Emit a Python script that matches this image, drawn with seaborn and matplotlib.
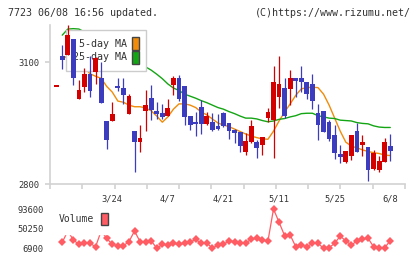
import numpy as np
import pandas as pd
import matplotlib
matplotlib.use("Agg")
import matplotlib.pyplot as plt
from matplotlib.patches import Patch
import seaborn as sns

# ---- data ----
opens = [3041, 3115, 3117, 3157, 3009, 3039, 3070, 3075, 3061, 2955,
         2956, 3041, 3036, 2972, 2930, 2904, 2980, 3012, 2980, 2975,
         2967, 3043, 3061, 3041, 2967, 2953, 2990, 2948, 2953, 2943,
         2975, 2950, 2933, 2928, 2879, 2904, 2904, 2896, 2962, 2957,
         3015, 3036, 3034, 3061, 3061, 3051, 3046, 2975, 2980, 2952,
         2920, 2874, 2855, 2870, 2930, 2896, 2891, 2837, 2834, 2855, 2894]
highs = [3041, 3142, 3191, 3157, 3056, 3086, 3115, 3113, 3100, 2955,
         3002, 3061, 3061, 3021, 2930, 2945, 3031, 3043, 3002, 2997,
         3009, 3066, 3068, 3041, 2967, 2977, 3007, 2977, 2975, 2972,
         2977, 2950, 2935, 2928, 2925, 2957, 2908, 2916, 2988, 3090,
         3115, 3061, 3080, 3061, 3090, 3051, 3071, 2997, 2980, 2957,
         2945, 2896, 2881, 2920, 2951, 2920, 2891, 2884, 2870, 2914, 2923]
lows = [3041, 3084, 3117, 3043, 3009, 3027, 3015, 3046, 3000, 2886,
        2956, 3029, 2997, 2972, 2830, 2879, 2930, 2957, 2960, 2960,
        2967, 3019, 3004, 2945, 2933, 2919, 2923, 2945, 2930, 2933,
        2939, 2911, 2901, 2879, 2871, 2901, 2865, 2871, 2952, 2865,
        2988, 2962, 2994, 3015, 3027, 3009, 2984, 2908, 2929, 2906,
        2861, 2852, 2852, 2859, 2879, 2870, 2808, 2834, 2830, 2855, 2857]
closes = [3041, 3104, 3166, 3061, 3031, 3070, 3029, 3110, 3000, 2908,
          2972, 3035, 3019, 3016, 2904, 2913, 2994, 2982, 2972, 2965,
          2987, 3061, 3009, 2965, 2945, 2948, 2948, 2968, 2933, 2935,
          2943, 2930, 2926, 2894, 2906, 2943, 2889, 2916, 2977, 3051,
          3046, 2968, 3061, 3054, 3050, 3021, 3005, 2945, 2929, 2911,
          2877, 2867, 2881, 2920, 2879, 2904, 2834, 2877, 2857, 2904, 2880]
ma5 = [np.nan, 3108, 3115, 3100, 3085, 3086, 3071, 3065, 3060, 3040,
       3026, 3004, 3001, 2994, 2990, 2990, 2987, 2980, 2967, 2952,
       2965, 2984, 2997, 2997, 2994, 2988, 2977, 2970, 2960, 2950,
       2945, 2941, 2935, 2929, 2923, 2918, 2914, 2911, 2910, 2930,
       2955, 2977, 2997, 3018, 3034, 3037, 3038, 3037, 3021, 2994,
       2962, 2930, 2903, 2893, 2889, 2884, 2880, 2877, 2875, 2871, 2870]
ma25 = [np.nan, 3166, 3181, 3182, 3181, 3174, 3167, 3159, 3151, 3143,
        3135, 3127, 3119, 3111, 3103, 3095, 3088, 3080, 3070, 3059,
        3046, 3036, 3030, 3021, 3016, 3011, 3005, 3000, 2994, 2988,
        2984, 2978, 2973, 2967, 2962, 2962, 2960, 2956, 2953, 2955,
        2959, 2961, 2965, 2968, 2973, 2974, 2974, 2968, 2965, 2962,
        2961, 2957, 2956, 2955, 2951, 2949, 2948, 2943, 2940, 2939, 2939]
volume = [np.nan, 20100, 45000, 25200, 15700, 17900, 17900, 10400, 45000, 28800,
          15700, 12600, 12600, 21500, 45100, 21500, 21500, 23700, 6900, 15700,
          14200, 17900, 15700, 17900, 20100, 26800, 17900, 19000, 6900, 14200,
          15700, 23000, 21500, 17900, 17900, 27400, 29000, 25200, 23000, 93600,
          64300, 34700, 36200, 10400, 14200, 10400, 17900, 17900, 6900, 8200,
          17900, 34000, 23000, 14200, 23000, 27400, 29000, 10400, 8200, 8200, 23700]
date_labels = ["3/24", "4/7", "4/21", "5/11", "5/25", "6/8"]
date_label_idx = [10, 20, 30, 40, 50, 60]
price_ticks = [2800, 3100]
ma_labels = ["5-day MA", "25-day MA"]

# ---- style ----
RED = "#d40000"
BLUE = "#3c3cbe"
ORANGE = "#f08c0a"
GREEN = "#14a514"
VOLRED = "#ff5c64"
AXIS = "#d2d2d2"
TXT = "#333333"

sns.set_style("white")
plt.rcParams["font.family"] = ["DejaVu Sans Mono", "DejaVu Sans"]

W, H = 420, 259
fig = plt.figure(figsize=(W / 100, H / 100), dpi=100)
fig.patch.set_facecolor("white")
ax = fig.add_axes([50 / W, 1 - 184 / H, 355 / W, 159 / H])
axv = fig.add_axes([50 / W, 1 - 254 / H, 355 / W, 51 / H])

df = pd.DataFrame(dict(x=np.arange(len(closes)), o=opens, h=highs, l=lows,
                       c=closes, ma5=ma5, ma25=ma25, vol=volume))
xmin, xmax = -1.2, 62.65

# ---- candles ----
up = df.c >= df.o
cols = np.where(up, RED, BLUE)
ax.vlines(df.x, df.l, df.h, colors=cols, lw=0.9, zorder=3)
raw = (df.c - df.o).abs()
body = raw.clip(lower=4)
bottom = df[["o", "c"]].min(axis=1) - (body - raw) / 2
ax.bar(df.x, body, bottom=bottom, width=0.86, color=cols, linewidth=0, zorder=4)

# ---- moving averages ----
sns.lineplot(data=df, x="x", y="ma5", ax=ax, color=ORANGE, lw=1.0,
             estimator=None, zorder=2)
sns.lineplot(data=df, x="x", y="ma25", ax=ax, color=GREEN, lw=1.0,
             estimator=None, zorder=2)

ax.set_xlim(xmin, xmax)
ax.set_ylim(2800, 3191)
ax.set_xlabel("")
ax.set_ylabel("")
for s in ["top", "right"]:
    ax.spines[s].set_visible(False)
for s in ["left", "bottom"]:
    ax.spines[s].set_color(AXIS)
    ax.spines[s].set_linewidth(1.2)
ax.set_yticks(price_ticks)
ax.set_yticklabels([str(v) for v in price_ticks])
ax.set_xticks(date_label_idx)
ax.set_xticklabels(date_labels)
ax.set_xticks(np.linspace(xmin, xmax, 12), minor=True)
ax.tick_params(axis="x", which="major", length=0, pad=7.5, labelsize=6.3, colors=TXT)
ax.tick_params(axis="x", which="minor", length=3.8, width=1.2, color=AXIS, bottom=True)
ax.tick_params(axis="y", which="major", length=3.8, width=1.2, color=AXIS,
               labelsize=6.3, labelcolor=TXT, pad=4, left=True)

handles = [Patch(facecolor=ORANGE, edgecolor="#444444", lw=1, label=ma_labels[0]),
           Patch(facecolor=GREEN, edgecolor="#444444", lw=1, label=ma_labels[1])]
leg = ax.legend(handles=handles, loc="upper left", bbox_to_anchor=(0.045, 0.969),
                borderaxespad=0, markerfirst=False, handlelength=0.65,
                handleheight=1.6, handletextpad=0.55, labelspacing=0.1,
                borderpad=0.7, fontsize=7.2, frameon=True, fancybox=False,
                edgecolor="#cccccc", framealpha=1)
leg.get_frame().set_linewidth(1)
for t in leg.get_texts():
    t.set_color(TXT)
leg.set_zorder(2.5)

# ---- volume ----
sns.lineplot(data=df, x="x", y="vol", ax=axv, color=VOLRED, lw=0.9,
             marker="D", markersize=4.2, markeredgewidth=0, estimator=None)
vmin, vmax = np.nanmin(volume), np.nanmax(volume)
rng = vmax - vmin
axv.set_xlim(xmin, xmax)
axv.set_ylim(vmin - rng * 5.7 / 39.3, vmax + rng * 6 / 39.3)
vt = [vmin, (vmin + vmax) / 2, vmax]
axv.set_yticks(vt)
axv.set_yticklabels([f"{v:.0f}" for v in vt])
axv.set_xticks([])
axv.set_xlabel("")
axv.set_ylabel("")
for s in axv.spines.values():
    s.set_visible(False)
axv.tick_params(axis="y", length=0, pad=4.5, labelsize=6.3, labelcolor=TXT)
vleg = axv.legend(handles=[Patch(facecolor=VOLRED, edgecolor="#444444", lw=1, label="Volume")],
                  loc="upper left", bbox_to_anchor=(0.0, 0.98), borderaxespad=0,
                  markerfirst=False, handlelength=0.72, handleheight=1.55,
                  handletextpad=0.7, borderpad=0.9, fontsize=7.0, frameon=True,
                  fancybox=False, edgecolor="white", framealpha=1)
for t in vleg.get_texts():
    t.set_color(TXT)

# ---- header ----
fig.text(8 / W, 1 - 12.5 / H, "7723 06/08 16:56 updated.", fontsize=7.2,
         color=TXT, va="center", ha="left")
fig.text(411 / W, 1 - 12.5 / H, "(C)https://www.rizumu.net/", fontsize=7.2,
         color=TXT, va="center", ha="right")

fig.savefig("out.png", dpi=100, facecolor="white")
